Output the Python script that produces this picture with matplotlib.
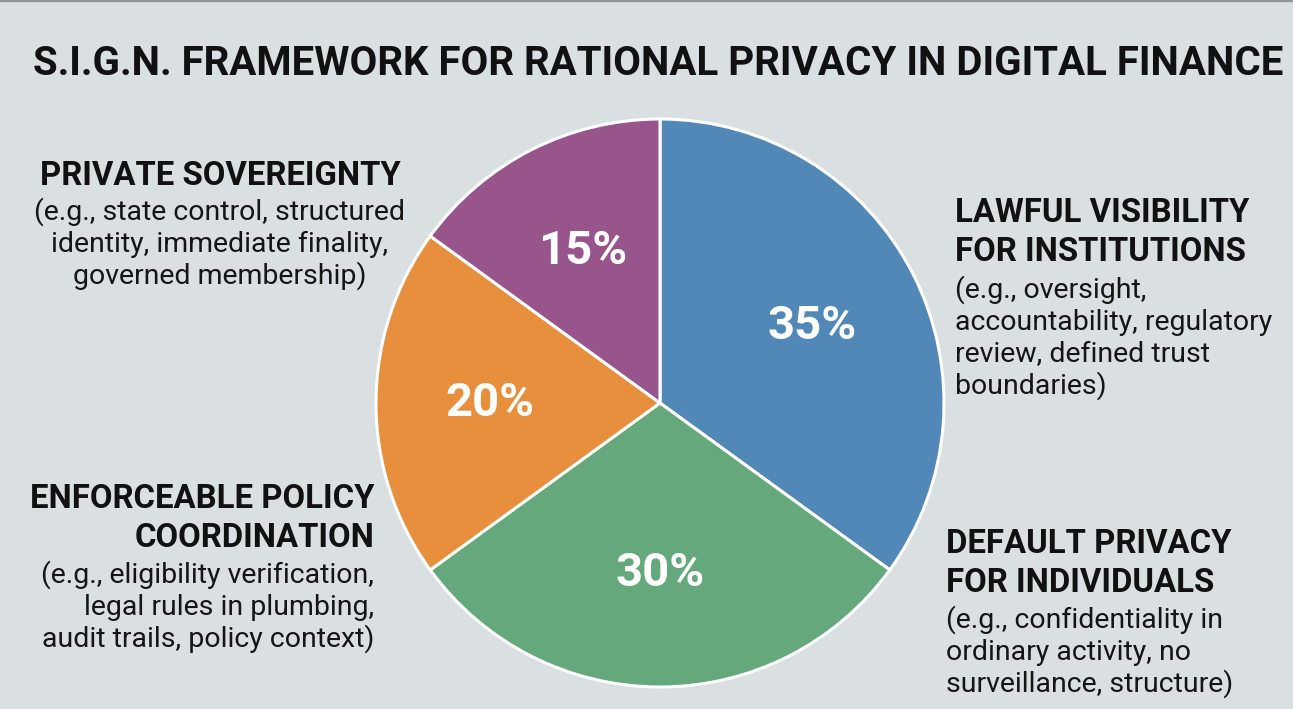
"""
S.I.G.N. framework pie chart: four privacy pillars with their shares.
"""

import matplotlib
matplotlib.use("Agg")
import matplotlib.pyplot as plt

plt.rcParams["font.family"] = ["Roboto", "DejaVu Sans"]

#=============================
# 0. Data
#=============================

title = "S.I.G.N. FRAMEWORK FOR RATIONAL PRIVACY IN DIGITAL FINANCE"

# slices, clockwise from 12 o'clock
shares = [35, 30, 20, 15]
colors = ["#5288b8", "#64a87b", "#e78f3d", "#98558c"]

# callout texts, same order as the slices
headings = [
    ["LAWFUL VISIBILITY", "FOR INSTITUTIONS"],
    ["DEFAULT PRIVACY", "FOR INDIVIDUALS"],
    ["ENFORCEABLE POLICY", "COORDINATION"],
    ["PRIVATE SOVEREIGNTY"],
]
examples = [
    ["(e.g., oversight,", "accountability, regulatory",
     "review, defined trust", "boundaries)"],
    ["(e.g., confidentiality in", "ordinary activity, no",
     "surveillance, structure)"],
    ["(e.g., eligibility verification,", "legal rules in plumbing,",
     "audit trails, policy context)"],
    ["(e.g., state control, structured", "identity, immediate finality,",
     "governed membership)"],
]

#=============================
# 1. Layout (pixels, origin top-left)
#=============================

W, H = 1293, 709
bg = "#dadfe1"
cx, cy, r = 660, 403, 284

# x anchor, alignment, first heading baseline, first example baseline
anchors = [
    (955, "left", 222, 298),
    (946, "left", 553, 628),
    (374, "right", 508, 583),
    (220, "center", 185, 220),
]
head_step, ex_step = 39, 32

fig = plt.figure(figsize=(W / 100, H / 100), dpi=100)
fig.patch.set_facecolor(bg)

# pie axes placed so the circle sits where the reference has it
ax = fig.add_axes([(cx - r) / W, (H - cy - r) / H, 2 * r / W, 2 * r / H])
ax.set_facecolor("none")
wedges, _, pcts = ax.pie(shares, colors=colors, startangle=90,
                         counterclock=False, radius=1,
                         autopct=lambda p: f"{p:.0f}%", pctdistance=0.6,
                         wedgeprops=dict(edgecolor="white", linewidth=2.2),
                         textprops=dict(color="white", fontsize=34,
                                        fontweight="bold"))
ax.set_xlim(-1, 1)
ax.set_ylim(-1, 1)
ax.set_aspect("equal")
ax.axis("off")

# overlay axes in pixel units for all the text
tx = fig.add_axes([0, 0, 1, 1])
tx.set_xlim(0, W)
tx.set_ylim(H, 0)
tx.axis("off")
tx.patch.set_alpha(0)

# thin dark strip at the very top of the picture
tx.axhline(0.8, color="#8e9396", linewidth=1.6)

tx.text(33, 75, title, fontsize=29, fontweight="bold", color="#111111",
        ha="left", va="baseline")

for head, ex, (x, ha, y_head, y_ex) in zip(headings, examples, anchors):
    for i, line in enumerate(head):
        tx.text(x, y_head + i * head_step, line, fontsize=23.7,
                fontweight="bold", color="#111111", ha=ha, va="baseline")
    for i, line in enumerate(ex):
        tx.text(x, y_ex + i * ex_step, line, fontsize=20.5,
                color="#151515", ha=ha, va="baseline")

fig.savefig("out.png", dpi=100, facecolor=bg)
